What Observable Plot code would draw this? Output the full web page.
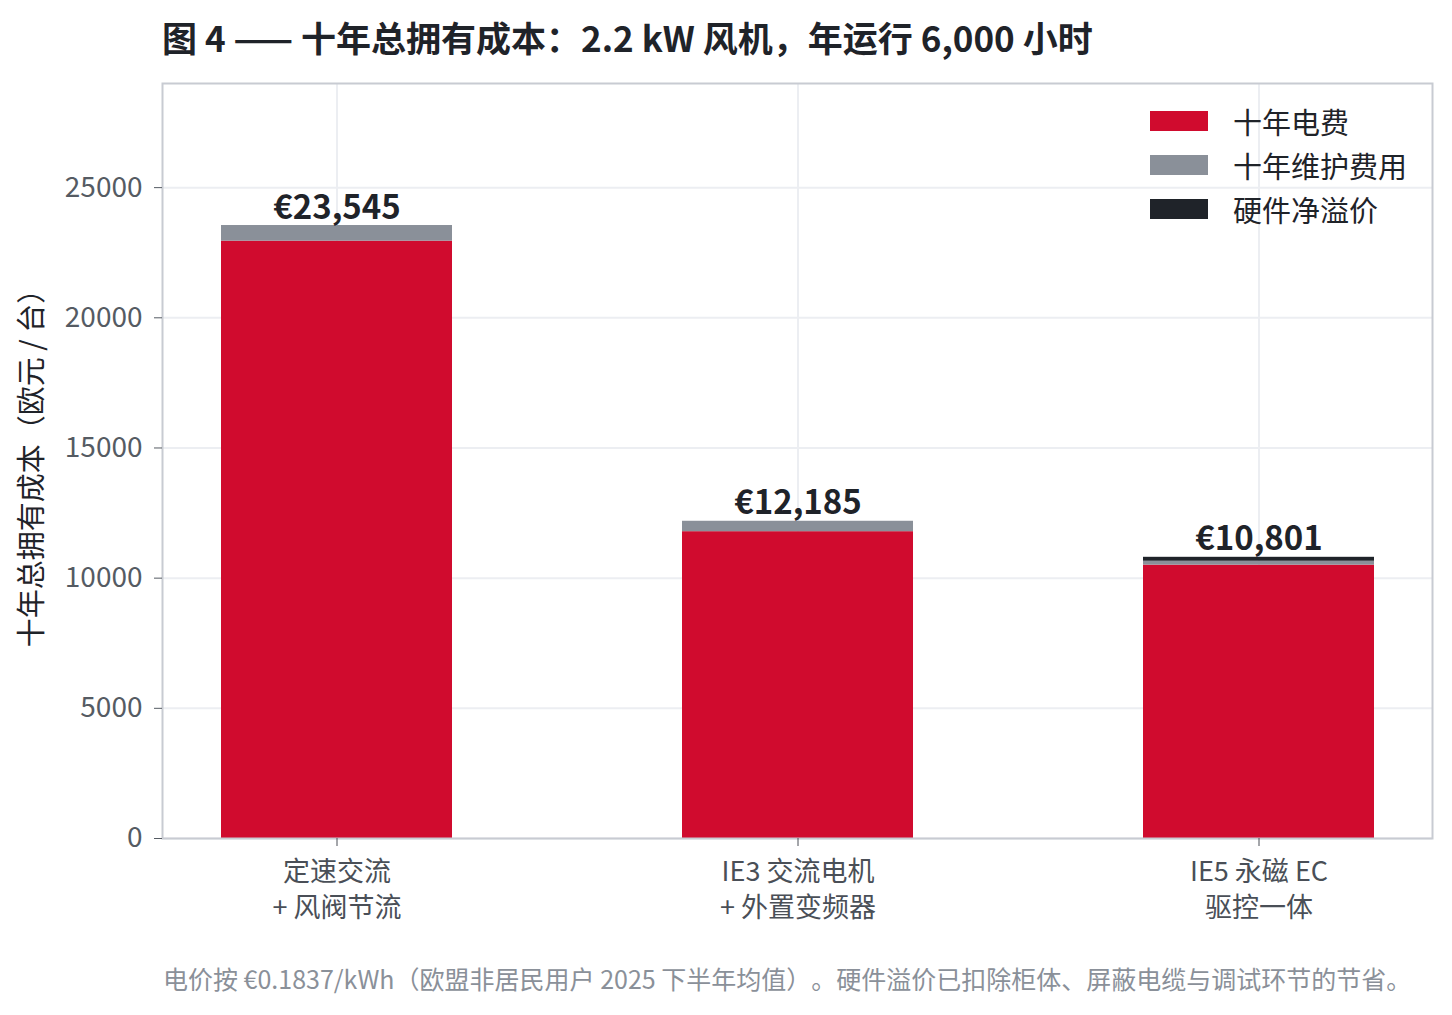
<!DOCTYPE html>
<html><head><meta charset="utf-8">
<script src="https://cdn.jsdelivr.net/npm/d3@7"></script>
<script src="https://cdn.jsdelivr.net/npm/@observablehq/plot@0.6"></script>
<style>
html,body{margin:0;padding:0;background:#fff;}
body{width:1452px;height:1015px;overflow:hidden;font-family:"Noto Sans CJK SC","Noto Sans",sans-serif;text-spacing-trim:space-all;}
svg text{text-spacing-trim:space-all;}
#wrap{position:relative;width:1452px;}
#title{height:70px;box-sizing:border-box;padding:14px 0 0 162px;font-size:35px;font-weight:700;color:#1f2329;line-height:46px;white-space:nowrap;}
#caption{padding:20px 0 0 163px;font-size:25px;color:#8a9099;white-space:nowrap;}
#legend{position:absolute;left:1150px;top:99px;font-size:29px;color:#1f2329;}
#legend .row{display:flex;align-items:center;height:44px;}
#legend .sw{width:58px;height:20px;margin-right:25px;}
</style></head>
<body>
<div id="wrap">
<div id="title">图 4 —— 十年总拥有成本：2.2 kW 风机，年运行 6,000 小时</div>
<div id="chart"></div>
<div id="caption">电价按 €0.1837/kWh（欧盟非居民用户 2025 下半年均值）。硬件溢价已扣除柜体、屏蔽电缆与调试环节的节省。</div>
<div id="legend"></div>
</div>
<script>
const categories = ["定速交流\n+ 风阀节流", "IE3 交流电机\n+ 外置变频器", "IE5 永磁 EC\n驱控一体"];
const seriesNames = ["十年电费", "十年维护费用", "硬件净溢价"];
const electricity = [22945, 11785, 10500];
const maintenance = [600, 400, 150];
const hardware = [0, 0, 151];
const yTicks = [0, 5000, 10000, 15000, 20000, 25000];
const colors = ["#d00b2e", "#8a9099", "#1f2329"];

const seriesValues = [electricity, maintenance, hardware];
const rows = [];
categories.forEach((c, i) => {
  seriesNames.forEach((s, j) => rows.push({category: c, series: s, value: seriesValues[j][i]}));
});
const totals = categories.map((c, i) => ({category: c, total: electricity[i] + maintenance[i] + hardware[i]}));

const chart = Plot.plot({
  width: 1452,
  height: 870,
  marginLeft: 162,
  marginRight: 20,
  marginTop: 13,
  marginBottom: 102,
  style: {fontFamily: '"Noto Sans CJK SC","Noto Sans",sans-serif', background: "#fff"},
  x: {domain: categories, paddingInner: 0.5, paddingOuter: 0.125, align: 0.5, label: null},
  y: {domain: [0, 29000], label: null},
  color: {domain: seriesNames, range: colors},
  marks: [
    Plot.gridY(yTicks, {stroke: "#eceef2", strokeOpacity: 1, strokeWidth: 2}),
    Plot.gridX(categories, {stroke: "#eceef2", strokeOpacity: 1, strokeWidth: 2}),
    Plot.barY(rows, Plot.stackY({order: seriesNames}, {x: "category", y: "value", fill: "series"})),
    Plot.frame({stroke: "#c8cbd2", strokeWidth: 2}),
    Plot.axisY({ticks: yTicks, tickSize: 8, tickPadding: 12, fontSize: 28, color: "#555b63", label: null, tickFormat: d => String(d)}),
    Plot.axisX({tickSize: 8, tickPadding: 10, fontSize: 27, color: "#4a4f57", label: null, lineHeight: 1.3}),
    Plot.text(totals, {x: "category", y: "total", text: d => "€" + d3.format(",")(d.total), dy: -7, lineAnchor: "bottom", fontSize: 33, fontWeight: 700, fill: "#1f2329"}),
    Plot.text(["十年总拥有成本（欧元 / 台）"], {frameAnchor: "left", textAnchor: "middle", text: d => d, rotate: -90, dx: -130, fontSize: 29, fill: "#1f2329"})
  ]
});
document.getElementById("chart").appendChild(chart);

const legend = document.getElementById("legend");
seriesNames.forEach((s, j) => {
  const r = document.createElement("div");
  r.className = "row";
  r.innerHTML = `<div class="sw" style="background:${colors[j]}"></div><span>${s}</span>`;
  legend.appendChild(r);
});
</script>
</body></html>
